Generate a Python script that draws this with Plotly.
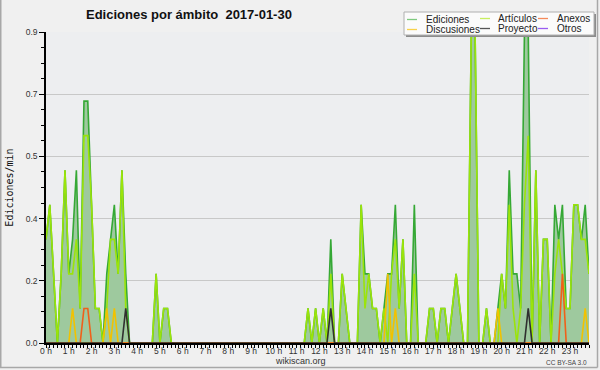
import plotly.graph_objects as go

# 10-minute slots of the day (minutes since 00:00)
minutes = list(range(0, 1440, 10))

ediciones = [
    0.3, 0.4, 0.2, 0.0, 0.2, 0.5, 0.2, 0.3, 0.5, 0.1, 0.7, 0.7,   # 0 h - 1:50
    0.4, 0.1, 0.1, 0.0, 0.2, 0.3, 0.4, 0.2, 0.5, 0.2, 0.0, 0.0,   # 2 h
    0.0, 0.0, 0.0, 0.0, 0.0, 0.2, 0.0, 0.1, 0.1, 0.0, 0.0, 0.0,   # 4 h
    0.0, 0.0, 0.0, 0.0, 0.0, 0.0, 0.0, 0.0, 0.0, 0.0, 0.0, 0.0,   # 6 h
    0.0, 0.0, 0.0, 0.0, 0.0, 0.0, 0.0, 0.0, 0.0, 0.0, 0.0, 0.0,   # 8 h
    0.0, 0.0, 0.0, 0.0, 0.0, 0.0, 0.0, 0.0, 0.0, 0.1, 0.0, 0.1,   # 10 h
    0.0, 0.1, 0.0, 0.3, 0.0, 0.0, 0.2, 0.1, 0.0, 0.0, 0.0, 0.4,   # 12 h
    0.2, 0.2, 0.1, 0.1, 0.0, 0.1, 0.2, 0.2, 0.4, 0.1, 0.3, 0.0,   # 14 h
    0.0, 0.4, 0.0, 0.0, 0.0, 0.1, 0.1, 0.0, 0.1, 0.1, 0.0, 0.1,   # 16 h
    0.2, 0.1, 0.0, 0.0, 0.9, 0.9, 0.0, 0.0, 0.1, 0.0, 0.0, 0.1,   # 18 h
    0.2, 0.1, 0.5, 0.2, 0.2, 0.1, 0.9, 0.9, 0.0, 0.5, 0.0, 0.3,   # 20 h
    0.3, 0.0, 0.4, 0.3, 0.4, 0.1, 0.1, 0.4, 0.4, 0.3, 0.4, 0.2,   # 22 h
]
articulos = [
    0.3, 0.4, 0.2, 0.0, 0.2, 0.5, 0.2, 0.2, 0.3, 0.1, 0.6, 0.6,
    0.4, 0.1, 0.1, 0.0, 0.1, 0.3, 0.3, 0.2, 0.5, 0.1, 0.0, 0.0,
    0.0, 0.0, 0.0, 0.0, 0.0, 0.2, 0.0, 0.1, 0.1, 0.0, 0.0, 0.0,
    0.0, 0.0, 0.0, 0.0, 0.0, 0.0, 0.0, 0.0, 0.0, 0.0, 0.0, 0.0,
    0.0, 0.0, 0.0, 0.0, 0.0, 0.0, 0.0, 0.0, 0.0, 0.0, 0.0, 0.0,
    0.0, 0.0, 0.0, 0.0, 0.0, 0.0, 0.0, 0.0, 0.0, 0.1, 0.0, 0.1,
    0.0, 0.1, 0.0, 0.2, 0.0, 0.0, 0.2, 0.1, 0.0, 0.0, 0.0, 0.4,
    0.1, 0.2, 0.1, 0.1, 0.0, 0.1, 0.0, 0.2, 0.3, 0.1, 0.3, 0.0,
    0.0, 0.2, 0.0, 0.0, 0.0, 0.1, 0.1, 0.0, 0.1, 0.1, 0.0, 0.1,
    0.2, 0.1, 0.0, 0.0, 0.9, 0.9, 0.0, 0.0, 0.1, 0.0, 0.0, 0.0,
    0.2, 0.1, 0.4, 0.1, 0.0, 0.1, 0.4, 0.6, 0.0, 0.5, 0.0, 0.3,
    0.3, 0.0, 0.2, 0.3, 0.2, 0.1, 0.1, 0.4, 0.4, 0.3, 0.3, 0.2,
]
discusiones = [0.0] * 144
for i, v in {7: 0.1, 16: 0.1, 18: 0.1, 90: 0.2, 92: 0.1, 119: 0.1, 142: 0.1}.items():
    discusiones[i] = v
anexos = [0.0] * 144
for i, v in {10: 0.1, 11: 0.1, 136: 0.2}.items():
    anexos[i] = v
proyecto = [0.0] * 144
for i, v in {21: 0.1, 75: 0.1, 127: 0.1}.items():
    proyecto[i] = v
otros = [0.0] * 144

y_tickvals = [0, 0.18, 0.36, 0.54, 0.72, 0.9]
y_ticktext = ["0.0", "0.2", "0.4", "0.5", "0.7", "0.9"]

hours = [m / 60 for m in minutes]

fig = go.Figure()
# Otros first so that its all-zero line stays hidden at the baseline
fig.add_trace(go.Scatter(x=hours, y=otros, name="Otros", mode="lines",
                         line=dict(color="#8a4af0", width=1.6)))
fig.add_trace(go.Scatter(
    x=hours, y=ediciones, name="Ediciones", mode="lines",
    line=dict(color="#35a835", width=1.6), fill="tozeroy", fillcolor="#9ec99e",
))
for name, vals, col in [
    ("Artículos", articulos, "#9be40a"),
    ("Discusiones", discusiones, "#f2c200"),
    ("Anexos", anexos, "#f0601a"),
    ("Proyecto", proyecto, "#303030"),
]:
    fig.add_trace(go.Scatter(x=hours, y=vals, name=name, mode="lines",
                             line=dict(color=col, width=1.6)))

# geometry helpers (pixel -> paper)
L, R, T, B = 46, 589, 32, 343
def px(x):
    return (x - L) / (R - L)
def py(y):
    return (B - y) / (B - T)

shapes = []
# outer frame
for x0, y0, x1, y1 in [(0.75, 0, 0.75, 367.5), (0, 367.5, 597.5, 367.5), (597.5, 0, 597.5, 367.5)]:
    shapes.append(dict(type="line", xref="paper", yref="paper", x0=px(x0), y0=py(y0),
                       x1=px(x1), y1=py(y1), line=dict(color="#a8a8a8", width=1.5)))
# legend box with shadow
shapes.append(dict(type="rect", xref="paper", yref="paper", layer="above",
                   x0=px(406), y0=py(14), x1=px(596), y1=py(37),
                   fillcolor="#8c8c8c", line=dict(width=0)))
shapes.append(dict(type="rect", xref="paper", yref="paper", layer="above",
                   x0=px(404), y0=py(12), x1=px(594), y1=py(35),
                   fillcolor="#fbfbfb", line=dict(color="#b0b0b0", width=1)))

legend_items = [
    ("Ediciones", "#7fca7f", 407, 424, 19.5),
    ("Artículos", "#c8ee60", 480, 496, 18.5),
    ("Anexos", "#f58a5a", 538, 555, 18.5),
    ("Discusiones", "#f8d24a", 407, 424, 29.5),
    ("Proyecto", "#555555", 480, 496, 28.5),
    ("Otros", "#9a5cf2", 538, 555, 28.5),
]
annotations = []
for text, col, lx, tx, yy in legend_items:
    shapes.append(dict(type="line", xref="paper", yref="paper", layer="above",
                       x0=px(lx), x1=px(lx + 10), y0=py(yy), y1=py(yy),
                       line=dict(color=col, width=1.3)))
    annotations.append(dict(text=text, xref="paper", yref="paper", x=px(tx), y=py(yy),
                            xanchor="left", yanchor="middle", showarrow=False,
                            font=dict(family="Liberation Sans", size=10, color="#222")))

annotations.append(dict(text="wikiscan.org", xref="paper", yref="paper", x=px(300.5), y=py(361),
                        xanchor="center", yanchor="middle", showarrow=False,
                        font=dict(family="Liberation Sans", size=9, color="#333")))
annotations.append(dict(text="CC BY-SA 3.0", xref="paper", yref="paper", x=px(589), y=py(362.5),
                        xanchor="right", yanchor="middle", showarrow=False,
                        font=dict(family="Liberation Sans", size=6.5, color="#444")))

fig.update_layout(
    width=600, height=370,
    margin=dict(l=L, r=600 - R, t=T, b=370 - B, pad=0, autoexpand=False),
    paper_bgcolor="#f0f0f0", plot_bgcolor="#edeef0",
    showlegend=False,
    title=dict(text="<b>Ediciones por ámbito&nbsp; 2017-01-30</b>", xref="container", yref="container",
               x=86 / 600, xanchor="left", y=1 - 14 / 370, yanchor="middle",
               font=dict(family="Liberation Sans", size=13, color="#111")),
    shapes=shapes, annotations=annotations,
)
fig.update_xaxes(
    range=[0, 143 / 6], tickmode="linear", tick0=0, dtick=1, ticksuffix=" h",
    ticks="outside", ticklen=3, tickcolor="black", showgrid=False, zeroline=False,
    showline=True, linecolor="black", linewidth=2, automargin=False,
    ticklabelstandoff=-4,
    tickfont=dict(family="Liberation Sans", size=8.5, color="#333"),
    minor=dict(tickmode="linear", tick0=0, dtick=1 / 6, ticks="outside", ticklen=3,
               tickcolor="black", showgrid=False),
)
fig.update_yaxes(
    range=[0, 0.9], tickmode="array", tickvals=y_tickvals, ticktext=y_ticktext,
    ticks="outside", ticklen=5, tickcolor="black", showgrid=True, gridcolor="#c8c8c8",
    gridwidth=1, zeroline=False, showline=True, linecolor="black", linewidth=1.5,
    automargin=False,
    tickfont=dict(family="Liberation Sans", size=8.5, color="#333"),
    title=dict(text="Ediciones/min", standoff=10,
               font=dict(family="DejaVu Sans Mono", size=10, color="#111")),
    minor=dict(tickmode="linear", tick0=0, dtick=0.045, ticks="outside", ticklen=3,
               tickcolor="black", showgrid=False),
)

fig.write_html("out.html", config={"displayModeBar": False},
               post_script="document.body.style.margin='0';")
